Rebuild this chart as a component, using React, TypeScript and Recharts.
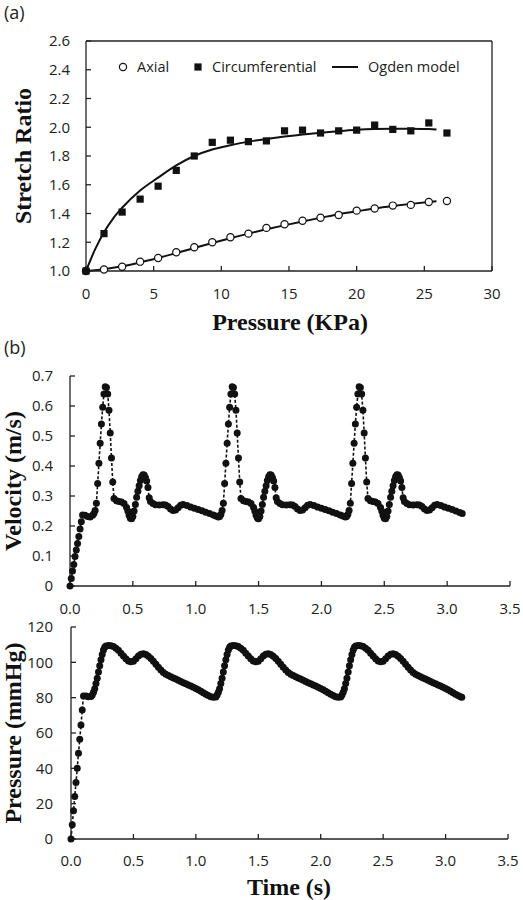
import React from "react";
import {
  ComposedChart,
  LineChart,
  Line,
  Scatter,
  XAxis,
  YAxis,
} from "recharts";

// (a) stretch ratio vs pressure
const pressureKPa = [0, 1.33, 2.67, 4.0, 5.33, 6.67, 8.0, 9.33, 10.67, 12.0, 13.33, 14.67, 16.0, 17.33, 18.67, 20.0, 21.33, 22.67, 24.0, 25.33, 26.67];
const axialStretch = [1.0, 1.01, 1.03, 1.065, 1.09, 1.13, 1.165, 1.2, 1.235, 1.26, 1.3, 1.325, 1.35, 1.37, 1.39, 1.42, 1.435, 1.455, 1.46, 1.48, 1.487];
const circStretch = [1.0, 1.26, 1.41, 1.5, 1.59, 1.7, 1.8, 1.895, 1.91, 1.9, 1.905, 1.975, 1.98, 1.96, 1.975, 1.98, 2.015, 1.985, 1.975, 2.03, 1.96];

const modelKPa = [0, 0.67, 1.33, 2, 2.67, 4, 5.33, 6.67, 8, 9.33, 10.67, 12, 13.33, 14.67, 16, 17.33, 18.67, 20, 21.33, 22.67, 24, 25.33, 25.9];
const ogdenCirc = [1.0, 1.15, 1.27, 1.365, 1.44, 1.56, 1.65, 1.735, 1.8, 1.845, 1.875, 1.9, 1.918, 1.935, 1.95, 1.962, 1.972, 1.982, 1.988, 1.99, 1.99, 1.987, 1.985];
const ogdenAxial = [1.0, 1.006, 1.013, 1.022, 1.033, 1.06, 1.09, 1.125, 1.16, 1.195, 1.228, 1.26, 1.29, 1.318, 1.345, 1.37, 1.395, 1.415, 1.435, 1.452, 1.467, 1.48, 1.485];

const kpaTicks = [0, 5, 10, 15, 20, 25, 30];
const stretchTicks = [1.0, 1.2, 1.4, 1.6, 1.8, 2.0, 2.2, 2.4, 2.6];

// (b) velocity (m/s) vs time (s), one array per cardiac cycle
const velocityCycle1 = [
  [0, 0], [0.01, 0.025], [0.02, 0.05], [0.03, 0.072], [0.04, 0.098], [0.05, 0.12], [0.06, 0.142], [0.07, 0.165],
  [0.08, 0.19], [0.09, 0.214], [0.1, 0.237], [0.12, 0.236], [0.14, 0.232], [0.16, 0.23], [0.18, 0.236], [0.19, 0.242],
  [0.2, 0.252], [0.21, 0.276], [0.22, 0.342], [0.23, 0.409], [0.24, 0.476], [0.25, 0.54], [0.26, 0.596], [0.27, 0.64],
  [0.28, 0.664], [0.29, 0.662], [0.3, 0.64], [0.31, 0.586], [0.32, 0.51], [0.33, 0.427], [0.34, 0.347], [0.35, 0.292],
  [0.37, 0.284], [0.39, 0.282], [0.41, 0.28], [0.43, 0.275], [0.45, 0.262], [0.46, 0.25], [0.47, 0.236], [0.48, 0.226],
  [0.49, 0.224], [0.5, 0.232], [0.51, 0.25], [0.52, 0.272], [0.53, 0.296], [0.54, 0.316], [0.55, 0.334], [0.56, 0.352],
  [0.57, 0.364], [0.58, 0.371], [0.59, 0.37], [0.6, 0.362], [0.61, 0.35], [0.62, 0.328], [0.63, 0.294], [0.64, 0.282],
  [0.66, 0.275], [0.68, 0.271], [0.71, 0.27], [0.74, 0.271], [0.76, 0.27], [0.78, 0.265], [0.8, 0.257], [0.82, 0.252],
  [0.84, 0.253], [0.86, 0.261], [0.88, 0.269], [0.9, 0.272], [0.93, 0.268], [0.96, 0.263], [0.99, 0.259],
];
const velocityCycle2 = [
  [1.02, 0.255], [1.05, 0.251], [1.08, 0.246], [1.11, 0.242], [1.14, 0.237], [1.16, 0.233], [1.18, 0.23], [1.19, 0.232],
  [1.2, 0.238], [1.21, 0.252], [1.22, 0.276], [1.23, 0.342], [1.24, 0.409], [1.25, 0.476], [1.26, 0.54], [1.27, 0.596],
  [1.28, 0.64], [1.29, 0.664], [1.3, 0.662], [1.31, 0.64], [1.32, 0.586], [1.33, 0.51], [1.34, 0.427], [1.35, 0.347],
  [1.36, 0.292], [1.38, 0.284], [1.4, 0.282], [1.42, 0.28], [1.44, 0.275], [1.46, 0.262], [1.47, 0.25], [1.48, 0.236],
  [1.49, 0.226], [1.5, 0.224], [1.51, 0.232], [1.52, 0.25], [1.53, 0.272], [1.54, 0.296], [1.55, 0.316], [1.56, 0.334],
  [1.57, 0.352], [1.58, 0.364], [1.59, 0.371], [1.6, 0.37], [1.61, 0.362], [1.62, 0.35], [1.63, 0.328], [1.64, 0.294],
  [1.65, 0.282], [1.67, 0.275], [1.69, 0.271], [1.72, 0.27], [1.75, 0.271], [1.77, 0.27], [1.79, 0.265], [1.81, 0.257],
  [1.83, 0.252], [1.85, 0.253], [1.87, 0.261], [1.89, 0.269], [1.91, 0.272], [1.94, 0.268], [1.97, 0.263], [2.0, 0.259],
];
const velocityCycle3 = [
  [2.03, 0.255], [2.06, 0.251], [2.09, 0.246], [2.12, 0.242], [2.15, 0.237], [2.17, 0.233], [2.19, 0.23], [2.2, 0.232],
  [2.21, 0.238], [2.22, 0.252], [2.23, 0.276], [2.24, 0.342], [2.25, 0.409], [2.26, 0.476], [2.27, 0.54], [2.28, 0.596],
  [2.29, 0.64], [2.3, 0.664], [2.31, 0.662], [2.32, 0.64], [2.33, 0.586], [2.34, 0.51], [2.35, 0.427], [2.36, 0.347],
  [2.37, 0.292], [2.39, 0.284], [2.41, 0.282], [2.43, 0.28], [2.45, 0.275], [2.47, 0.262], [2.48, 0.25], [2.49, 0.236],
  [2.5, 0.226], [2.51, 0.224], [2.52, 0.232], [2.53, 0.25], [2.54, 0.272], [2.55, 0.296], [2.56, 0.316], [2.57, 0.334],
  [2.58, 0.352], [2.59, 0.364], [2.6, 0.371], [2.61, 0.37], [2.62, 0.362], [2.63, 0.35], [2.64, 0.328], [2.65, 0.294],
  [2.66, 0.282], [2.68, 0.275], [2.7, 0.271], [2.73, 0.27], [2.76, 0.271], [2.78, 0.27], [2.8, 0.265], [2.82, 0.257],
  [2.84, 0.252], [2.86, 0.253], [2.88, 0.261], [2.9, 0.269], [2.92, 0.272], [2.95, 0.268], [2.98, 0.263], [3.01, 0.259],
  [3.04, 0.255], [3.07, 0.25], [3.1, 0.245], [3.12, 0.242],
];

// (b) pressure (mmHg) vs time (s)
const pressureCycle1 = [
  [0, 0], [0.01, 8], [0.02, 16], [0.03, 24], [0.04, 32], [0.05, 40], [0.06, 48.5], [0.07, 56.5], [0.08, 64.5],
  [0.09, 73], [0.1, 81], [0.12, 81], [0.14, 80.5], [0.16, 80.6], [0.17, 81.5], [0.18, 83], [0.19, 85], [0.2, 88],
  [0.21, 91], [0.22, 94.5], [0.23, 98], [0.24, 101.5], [0.25, 104.5], [0.26, 107], [0.27, 108.6], [0.28, 109.3],
  [0.3, 109.5], [0.32, 109.4], [0.34, 109], [0.36, 108], [0.38, 106.8], [0.4, 105.2], [0.42, 103.6], [0.44, 102],
  [0.46, 100.8], [0.48, 100.3], [0.5, 100.6], [0.52, 102], [0.54, 103.6], [0.56, 104.6], [0.58, 104.9], [0.6, 104.5],
  [0.62, 103.5], [0.64, 102.2], [0.66, 100.6], [0.68, 98.9], [0.7, 97.2], [0.72, 95.6], [0.74, 94.3], [0.76, 93.3],
  [0.78, 92.5], [0.8, 91.8], [0.82, 91.1], [0.84, 90.5], [0.86, 89.8], [0.88, 89.1], [0.9, 88.5], [0.92, 87.9],
  [0.94, 87.2], [0.96, 86.6], [0.98, 85.9],
];
const pressureCycle2 = [
  [1.0, 85.2], [1.02, 84.5], [1.04, 83.7], [1.06, 82.8], [1.08, 82], [1.1, 81.2], [1.12, 80.5], [1.14, 80.3],
  [1.16, 80.4], [1.17, 81.5], [1.18, 83], [1.19, 85], [1.2, 88], [1.21, 91], [1.22, 94.5], [1.23, 98], [1.24, 101.5],
  [1.25, 104.5], [1.26, 107], [1.27, 108.6], [1.28, 109.3], [1.3, 109.5], [1.32, 109.4], [1.34, 109], [1.36, 108],
  [1.38, 106.8], [1.4, 105.2], [1.42, 103.6], [1.44, 102], [1.46, 100.8], [1.48, 100.3], [1.5, 100.6], [1.52, 102],
  [1.54, 103.6], [1.56, 104.6], [1.58, 104.9], [1.6, 104.5], [1.62, 103.5], [1.64, 102.2], [1.66, 100.6], [1.68, 98.9],
  [1.7, 97.2], [1.72, 95.6], [1.74, 94.3], [1.76, 93.3], [1.78, 92.5], [1.8, 91.8], [1.82, 91.1], [1.84, 90.5],
  [1.86, 89.8], [1.88, 89.1], [1.9, 88.5], [1.92, 87.9], [1.94, 87.2], [1.96, 86.6], [1.98, 85.9],
];
const pressureCycle3 = [
  [2.0, 85.2], [2.02, 84.5], [2.04, 83.7], [2.06, 82.8], [2.08, 82], [2.1, 81.2], [2.12, 80.5], [2.14, 80.3],
  [2.16, 80.4], [2.17, 81.5], [2.18, 83], [2.19, 85], [2.2, 88], [2.21, 91], [2.22, 94.5], [2.23, 98], [2.24, 101.5],
  [2.25, 104.5], [2.26, 107], [2.27, 108.6], [2.28, 109.3], [2.3, 109.5], [2.32, 109.4], [2.34, 109], [2.36, 108],
  [2.38, 106.8], [2.4, 105.2], [2.42, 103.6], [2.44, 102], [2.46, 100.8], [2.48, 100.3], [2.5, 100.6], [2.52, 102],
  [2.54, 103.6], [2.56, 104.6], [2.58, 104.9], [2.6, 104.5], [2.62, 103.5], [2.64, 102.2], [2.66, 100.6], [2.68, 98.9],
  [2.7, 97.2], [2.72, 95.6], [2.74, 94.3], [2.76, 93.3], [2.78, 92.5], [2.8, 91.8], [2.82, 91.1], [2.84, 90.5],
  [2.86, 89.8], [2.88, 89.1], [2.9, 88.5], [2.92, 87.9], [2.94, 87.2], [2.96, 86.6], [2.98, 85.9], [3.0, 85.2],
  [3.02, 84.5], [3.04, 83.7], [3.06, 82.8], [3.08, 82], [3.1, 81.2], [3.12, 80.5], [3.13, 80.3],
];

const timeTicks = [0, 0.5, 1.0, 1.5, 2.0, 2.5, 3.0, 3.5];
const velocityTicks = [0, 0.1, 0.2, 0.3, 0.4, 0.5, 0.6, 0.7];
const mmHgTicks = [0, 20, 40, 60, 80, 100, 120];

const axialPoints = pressureKPa.map((x, i) => ({ x, y: axialStretch[i] }));
const circPoints = pressureKPa.map((x, i) => ({ x, y: circStretch[i] }));
const ogdenCircLine = modelKPa.map((x, i) => ({ x, y: ogdenCirc[i] }));
const ogdenAxialLine = modelKPa.map((x, i) => ({ x, y: ogdenAxial[i] }));
const velocityData = [...velocityCycle1, ...velocityCycle2, ...velocityCycle3].map(([t, v]) => ({ t, v }));
const pressureData = [...pressureCycle1, ...pressureCycle2, ...pressureCycle3].map(([t, p]) => ({ t, p }));

const SANS = '"Open Sans", sans-serif';
const SERIF = '"Liberation Serif", "Times New Roman", serif';
const TICK = { fontSize: 15, fill: "#222", fontFamily: SANS };
const AXIS = { stroke: "#222", strokeWidth: 1.3 };

const circleShape = (p: any) => (
  <circle cx={p.cx} cy={p.cy} r={3.6} fill="#fff" stroke="#111" strokeWidth={1.2} />
);
const squareShape = (p: any) => (
  <rect x={p.cx - 3.6} y={p.cy - 3.6} width={7.2} height={7.2} fill="#111" />
);
const dataDot = (p: any) => (
  <circle key={`dot-${p.index}`} cx={p.cx} cy={p.cy} r={3.5} fill="#111" />
);

function Title({ x, y, text, rotate, size = 24 }: { x: number; y: number; text: string; rotate?: boolean; size?: number }) {
  return (
    <div
      style={{
        position: "absolute",
        left: x,
        top: y,
        transform: `translate(-50%, -50%)${rotate ? " rotate(-90deg)" : ""}`,
        fontFamily: SERIF,
        fontWeight: "bold",
        fontSize: size,
        whiteSpace: "nowrap",
        color: "#111",
        lineHeight: 1,
      }}
    >
      {text}
    </div>
  );
}

function PanelTag({ y, text }: { y: number; text: string }) {
  return (
    <div style={{ position: "absolute", left: 4, top: y, fontFamily: SANS, fontSize: 18, color: "#222", lineHeight: 1 }}>
      {text}
    </div>
  );
}

function Legend() {
  const item = { position: "absolute" as const, top: 58, fontFamily: SANS, fontSize: 14.5, color: "#222", lineHeight: "18px" };
  return (
    <>
      <svg style={{ position: "absolute", left: 0, top: 0 }} width={523} height={100}>
        <circle cx={123} cy={67} r={3.6} fill="#fff" stroke="#111" strokeWidth={1.2} />
        <rect x={194.4} y={63.4} width={7.2} height={7.2} fill="#111" />
        <line x1={332} y1={67} x2={358} y2={67} stroke="#111" strokeWidth={2} />
      </svg>
      <div style={{ ...item, left: 137 }}>Axial</div>
      <div style={{ ...item, left: 212 }}>Circumferential</div>
      <div style={{ ...item, left: 368 }}>Ogden model</div>
    </>
  );
}

export default function App() {
  return (
    <div style={{ position: "absolute", left: 0, top: 0, width: 523, height: 900, background: "#fff" }}>
      <div style={{ position: "absolute", left: 0, top: 0 }}>
        <ComposedChart width={523} height={320} margin={{ top: 40, right: 30, bottom: 0, left: 0 }}>
          <XAxis
            type="number"
            dataKey="x"
            domain={[0, 30]}
            ticks={kpaTicks}
            interval={0}
            height={49}
            tickSize={-5}
            tickMargin={22}
            axisLine={AXIS}
            tickLine={AXIS}
            tick={TICK}
          />
          <XAxis xAxisId="top" orientation="top" type="number" domain={[0, 30]} height={1} tick={false} tickLine={false} axisLine={AXIS} />
          <YAxis
            type="number"
            dataKey="y"
            domain={[1, 2.6]}
            ticks={stretchTicks}
            interval={0}
            width={86}
            tickSize={-5}
            tickMargin={21}
            tickFormatter={(v: number) => v.toFixed(1)}
            axisLine={AXIS}
            tickLine={AXIS}
            tick={TICK}
          />
          <YAxis yAxisId="right" orientation="right" type="number" domain={[1, 2.6]} width={1} tick={false} tickLine={false} axisLine={AXIS} />
          <Scatter name="Axial" data={axialPoints} dataKey="y" shape={circleShape} isAnimationActive={false} />
          <Scatter name="Circumferential" data={circPoints} dataKey="y" shape={squareShape} isAnimationActive={false} />
          <Line data={ogdenCircLine} dataKey="y" type="monotone" stroke="#111" strokeWidth={2} dot={false} activeDot={false} isAnimationActive={false} />
          <Line data={ogdenAxialLine} dataKey="y" type="monotone" stroke="#111" strokeWidth={2} dot={false} activeDot={false} isAnimationActive={false} />
        </ComposedChart>
      </div>
      <Legend />
      <PanelTag y={3} text="(a)" />
      <Title x={23} y={156} text="Stretch Ratio" rotate />
      <Title x={290} y={322} text="Pressure (KPa)" />

      <PanelTag y={338} text="(b)" />
      <div style={{ position: "absolute", left: 0, top: 360 }}>
        <LineChart width={523} height={260} data={velocityData} margin={{ top: 16, right: 13, bottom: 0, left: 0 }}>
          <XAxis
            type="number"
            dataKey="t"
            domain={[0, 3.5]}
            ticks={timeTicks}
            interval={0}
            height={34}
            tickSize={-5}
            tickMargin={22}
            tickFormatter={(v: number) => v.toFixed(1)}
            axisLine={AXIS}
            tickLine={AXIS}
            tick={TICK}
          />
          <YAxis
            type="number"
            domain={[0, 0.7]}
            ticks={velocityTicks}
            interval={0}
            width={70}
            tickSize={-5}
            tickMargin={22}
            tickFormatter={(v: number) => (v === 0 ? "0" : v.toFixed(1))}
            axisLine={AXIS}
            tickLine={AXIS}
            tick={TICK}
          />
          <Line dataKey="v" type="linear" stroke="#111" strokeWidth={1.6} strokeDasharray="3 2" dot={dataDot} activeDot={false} isAnimationActive={false} />
        </LineChart>
      </div>
      <Title x={13} y={481} text="Velocity (m/s)" rotate />

      <div style={{ position: "absolute", left: 0, top: 615 }}>
        <LineChart width={523} height={260} data={pressureData} margin={{ top: 12, right: 15, bottom: 0, left: 0 }}>
          <XAxis
            type="number"
            dataKey="t"
            domain={[0, 3.5]}
            ticks={timeTicks}
            interval={0}
            height={36}
            tickSize={-5}
            tickMargin={21}
            tickFormatter={(v: number) => v.toFixed(1)}
            axisLine={AXIS}
            tickLine={AXIS}
            tick={TICK}
          />
          <YAxis
            type="number"
            domain={[0, 120]}
            ticks={mmHgTicks}
            interval={0}
            width={71}
            tickSize={-5}
            tickMargin={23}
            axisLine={AXIS}
            tickLine={AXIS}
            tick={TICK}
          />
          <Line dataKey="p" type="linear" stroke="#111" strokeWidth={1.6} strokeDasharray="3 2" dot={dataDot} activeDot={false} isAnimationActive={false} />
        </LineChart>
      </div>
      <Title x={13} y={733} text="Pressure (mmHg)" rotate />
      <Title x={289} y={887} text="Time (s)" />
    </div>
  );
}
